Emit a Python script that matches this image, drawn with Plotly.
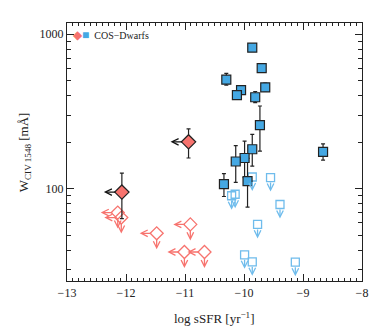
import math
import plotly.graph_objects as go

# COS-Dwarfs detections (filled blue squares)
det_ssfr = [-9.86, -9.70, -10.30, -10.05, -10.12, -9.64, -9.81, -9.73, -9.86, -9.99, -10.14, -10.34, -9.94, -8.66]
det_w = [819, 603, 508, 435, 404, 453, 391, 258, 180, 158, 150, 107, 112, 173]
det_err_hi = [0, 0, 50, 0, 12, 30, 35, 85, 45, 45, 40, 18, 45, 22]
det_err_lo = [0, 0, 40, 0, 12, 25, 30, 83, 40, 40, 40, 18, 36, 20]

# detections with sSFR upper limits (filled red diamonds)
dlim_ssfr = [-10.94, -12.07]
dlim_w = [201, 95]
dlim_err_hi = [43, 31]
dlim_err_lo = [43, 31]

# non-detections, sSFR limits (open red diamonds)
ulim_red_ssfr = [-12.14, -12.08, -11.48, -10.91, -11.01, -10.67]
ulim_red_w = [70, 65, 51.4, 58.7, 38.9, 38.9]

# non-detections (open blue squares)
ulim_blue_ssfr = [-9.86, -9.55, -10.21, -10.15, -9.39, -9.77, -9.99, -9.86, -9.13]
ulim_blue_w = [119, 118, 90, 92, 79, 58.7, 37.3, 33.6, 33.4]

RED = "#f7736e"
BLUE = "#45a8e3"
LBLUE = "#6fbcec"
FONT = "Liberation Serif"

fig = go.Figure()

fig.add_trace(go.Scatter(
    x=ulim_red_ssfr, y=ulim_red_w, mode="markers",
    marker=dict(symbol="diamond-open", size=10, color=RED, line=dict(width=1.3, color=RED)),
))
fig.add_trace(go.Scatter(
    x=ulim_blue_ssfr, y=ulim_blue_w, mode="markers",
    marker=dict(symbol="square-open", size=8, color=LBLUE, line=dict(width=1.3, color=LBLUE)),
))
fig.add_trace(go.Scatter(
    x=det_ssfr, y=det_w, mode="markers",
    marker=dict(symbol="square", size=9, color=BLUE, line=dict(width=1.2, color="#222")),
    error_y=dict(type="data", array=det_err_hi, arrayminus=det_err_lo, color="#222",
                 thickness=1.2, width=2),
))
fig.add_trace(go.Scatter(
    x=dlim_ssfr, y=dlim_w, mode="markers",
    marker=dict(symbol="diamond", size=11, color=RED, line=dict(width=1.2, color="#222")),
    error_y=dict(type="data", array=dlim_err_hi, arrayminus=dlim_err_lo, color="#222",
                 thickness=1.2, width=2),
))

annotations = []


def arrow(x, y, dx, dy, start, color):
    # head sits (start + length) px away from the marker, tail sits start px away
    ux = (dx > 0) - (dx < 0)
    uy = (dy > 0) - (dy < 0)
    annotations.append(dict(
        x=x, y=math.log10(y), xref="x", yref="y",
        xshift=dx + ux * start, yshift=-(dy + uy * start),
        ax=-dx, ay=-dy, axref="pixel", ayref="pixel",
        text=" ", font=dict(size=1), borderpad=0,
        showarrow=True, arrowhead=5, arrowsize=1.0, arrowwidth=1.3,
        arrowcolor=color, standoff=0,
    ))


for x, y in zip(ulim_red_ssfr, ulim_red_w):
    arrow(x, y, -12, 0, 5, RED)
    arrow(x, y, 0, 11, 5, RED)
for x, y in zip(ulim_blue_ssfr, ulim_blue_w):
    arrow(x, y, 0, 10, 4, LBLUE)
for x, y in zip(dlim_ssfr, dlim_w):
    arrow(x, y, -12, 0, 6, "#111")

annotations.append(dict(
    x=0.012, y=0.955, xref="paper", yref="paper", xanchor="left", yanchor="middle",
    showarrow=False, font=dict(family=FONT, size=10, color="#222"),
    text=f'<span style="color:{RED};font-size:12px">◆</span><span style="color:{BLUE};font-size:12px">■</span>  COS−Dwarfs',
))
# axis titles
annotations.append(dict(
    x=0.5, y=-0.105, xref="paper", yref="paper", xanchor="center", yanchor="top",
    showarrow=False, font=dict(family=FONT, size=13, color="#222"),
    text="log sSFR [yr<sup>−1</sup>]",
))
annotations.append(dict(
    x=-0.145, y=0.5, xref="paper", yref="paper", xanchor="center", yanchor="middle",
    showarrow=False, textangle=-90, font=dict(family=FONT, size=13, color="#222"),
    text="W<sub>CIV 1548</sub> [mÅ]",
))

axis_common = dict(
    showline=True, linecolor="#222", linewidth=1.2, mirror="allticks",
    ticks="inside", tickcolor="#222", showgrid=False, zeroline=False, automargin=False,
    tickfont=dict(family=FONT, size=12, color="#222"),
)

fig.update_layout(
    width=382, height=327,
    margin=dict(l=67, r=20, t=23, b=46),
    paper_bgcolor="white", plot_bgcolor="white",
    showlegend=False,
    annotations=annotations,
    xaxis=dict(
        range=[-13, -8], tickvals=[-13, -12, -11, -10, -9, -8],
        ticktext=["−13", "−12", "−11", "−10", "−9", "−8"],
        ticklen=7, tickwidth=1,
        minor=dict(dtick=0.1, ticks="inside", ticklen=3, tickcolor="#222"),
        **axis_common,
    ),
    yaxis=dict(
        type="log", range=[1.402, 3.073], tickvals=[100, 1000], ticktext=["100", "1000"],
        ticklen=7, tickwidth=1,
        minor=dict(tickvals=[30, 40, 50, 60, 70, 80, 90, 200, 300, 400, 500, 600, 700, 800, 900],
                   ticks="inside", ticklen=4, tickcolor="#222"),
        **axis_common,
    ),
)

fig.write_html("out.html", config={"displayModeBar": False},
               post_script="document.body.style.margin='0';")
